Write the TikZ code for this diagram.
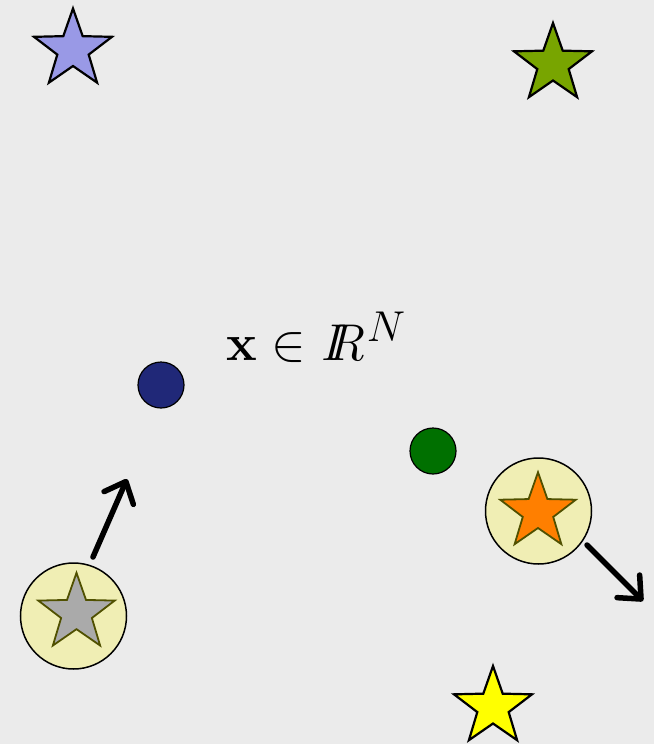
\documentclass[tikz,border=0pt]{standalone}
\usepackage{amsmath}
\usetikzlibrary{arrows.meta}
\definecolor{bg}{RGB}{235,235,235}
\definecolor{bluestar}{RGB}{153,153,230}
\definecolor{olivestar}{RGB}{120,165,0}
\definecolor{yellowstar}{RGB}{255,255,0}
\definecolor{orangestar}{RGB}{255,127,0}
\definecolor{graystar}{RGB}{170,170,170}
\definecolor{darkolive}{RGB}{80,80,0}
\definecolor{paleyellow}{RGB}{240,238,180}
\definecolor{darkblue}{RGB}{32,40,120}
\definecolor{darkgreen}{RGB}{0,112,0}
\tikzset{
  starshape/.pic={
    \path[pic actions] (-90:41) -- (-54:16.5) -- (-18:41) -- (18:16.5) -- (54:41)
      -- (90:16.5) -- (126:41) -- (162:16.5) -- (198:41) -- (234:16.5) -- cycle;
  },
  bigstar/.style={draw=black, line width=2.2pt, line join=miter},
  smallstar/.style={draw=darkolive, line width=1.8pt, line join=miter},
  halo/.style={circle, draw=black, line width=1.5pt, fill=paleyellow, minimum size=106pt, inner sep=0pt},
  dot/.style={circle, draw=black, line width=1.2pt, minimum size=46pt, inner sep=0pt},
  movearrow/.style={line width=5.5pt, line cap=round, -{Straight Barb[length=18pt,width=32pt,round]}}
}
\begin{document}
\begin{tikzpicture}[x=1pt,y=-1pt]
\fill[bg] (0,0) rectangle (654,744);
\useasboundingbox (0,0) rectangle (654,744);
% corner stars
\pic[bigstar, fill=bluestar] at (73,49.5) {starshape};
\pic[bigstar, fill=olivestar] at (553,64) {starshape};
\pic[bigstar, fill=yellowstar] at (493,707) {starshape};
% halo circles
\node[halo] (hl) at (73.5,616) {};
\pic[smallstar, fill=graystar, scale=0.98] at (76.5,613) {starshape};
\node[halo] (hr) at (538.5,511) {};
\pic[smallstar, fill=orangestar, scale=0.97] at (538,512) {starshape};
% dots
\node[dot, fill=darkblue] (db) at (161,385) {};
\node[dot, fill=darkgreen] (dg) at (433,451) {};
% label
\node[anchor=base west, inner sep=0pt, font=\Huge, scale=2.08, transform shape] (lbl) at (226,360)
  {$\mathbf{x}\in \mathit{I\mkern-7mu R}^{N}$};
% arrows
\coordinate (ta) at (127,479);
\coordinate (tb) at (643,601);
\draw[movearrow] (93,557) -- (ta);
\draw[movearrow] (587,545) -- (tb);
\end{tikzpicture}
\end{document}
